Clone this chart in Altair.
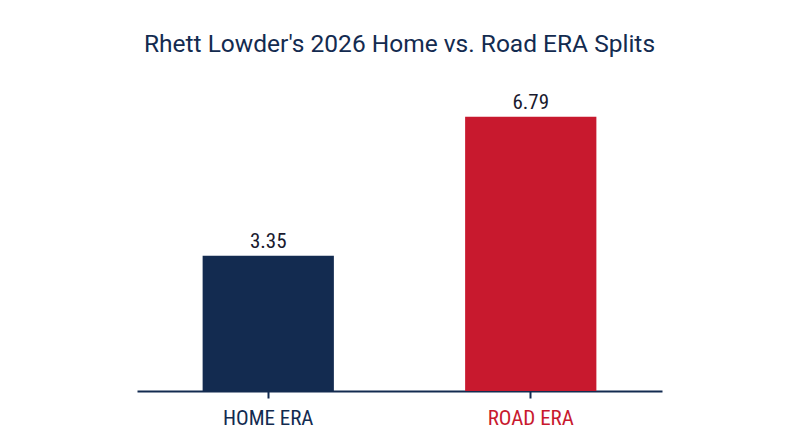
import altair as alt
import pandas as pd

categories = ["HOME ERA", "ROAD ERA"]
era_values = [3.35, 6.79]
value_labels = ["3.35", "6.79"]
bar_colors = ["#132B50", "#C8192E"]

df = pd.DataFrame({"cat": categories, "era": era_values, "label": value_labels})

NAVY = "#132B50"
RED = "#C8192E"
COND = "Roboto Condensed, Liberation Sans Narrow, Arial Narrow, Roboto, sans-serif"

x = alt.X("cat:N", sort=categories, title=None,
          scale=alt.Scale(paddingInner=0.5, paddingOuter=0.25),
          axis=alt.Axis(labelAngle=0, labelFont=COND, labelFontSize=21,
                        labelColor=alt.expr(f"datum.value == 'ROAD ERA' ? '{RED}' : '{NAVY}'"),
                        labelPadding=9, tickColor=NAVY, tickSize=7, tickWidth=2,
                        domainColor=NAVY, domainWidth=2, grid=False))
y = alt.Y("era:Q", scale=alt.Scale(domain=[0, 7.5], nice=False), axis=None)

bars = alt.Chart(df).mark_bar().encode(
    x=x, y=y,
    color=alt.Color("cat:N", scale=alt.Scale(domain=categories, range=bar_colors), legend=None),
)
text = alt.Chart(df).mark_text(baseline="bottom", dy=-4, font=COND, fontSize=21,
                               color="#1a1a2e").encode(
    x=alt.X("cat:N", sort=categories), y=y, text="label:N")

chart = alt.layer(bars, text).properties(
    width=525, height=303,
    background="white",
    title=alt.TitleParams("Rhett Lowder's 2026 Home vs. Road ERA Splits", font="Roboto",
                          fontSize=24.5, fontWeight="normal", color=NAVY, anchor="middle", offset=31),
    autosize=alt.AutoSizeParams(type="none"),
    padding={"left": 129, "top": 80, "right": 130, "bottom": 48},
).configure_view(strokeWidth=0, stroke="transparent")

chart.save("out.html", embed_options={"renderer": "svg", "actions": False})
